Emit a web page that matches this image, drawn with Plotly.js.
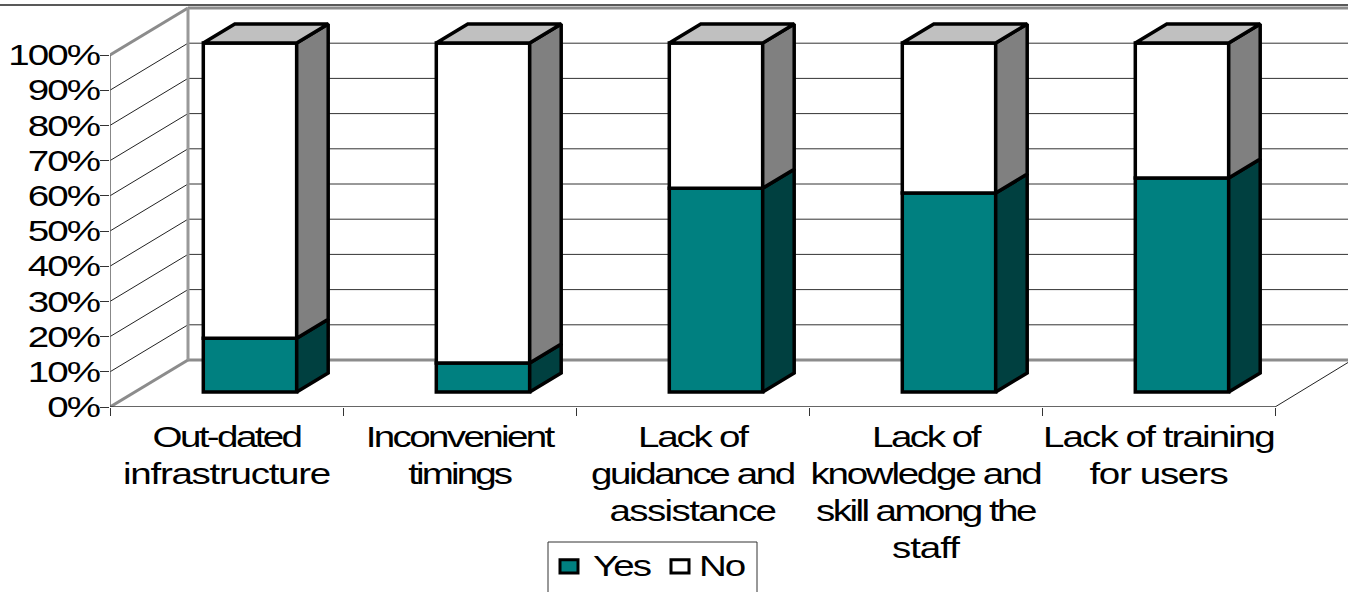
<!DOCTYPE html>
<html>
<head>
<meta charset="utf-8">
<script src="https://cdn.plot.ly/plotly-3.0.1.min.js"></script>
<style>html,body{margin:0;padding:0;background:#fff;overflow:hidden}</style>
</head>
<body>
<div id="chart" style="width:1348px;height:592px"></div>
<script>
// Share of respondents per barrier
const categories = [
  "Out-dated<br>infrastructure",
  "Inconvenient<br>timings",
  "Lack of<br>guidance and<br>assistance",
  "Lack of<br>knowledge and<br>skill among the<br>staff",
  "Lack of training<br>for users"
];
const yesValues = [15.4, 8.3, 58.4, 57, 61.3];
const noValues = [84.6, 91.7, 41.6, 43, 38.7];
const percentTicks = [0, 10, 20, 30, 40, 50, 60, 70, 80, 90, 100];

// Oblique projection of the box, in axis units
const W = 1348, H = 592, LEFT = 110, FLOOR = 407;
const UNIT_X = 233, UNIT_Y = 3.52;
const wallDX = 78 / UNIT_X, wallDY = 47 / UNIT_Y;
const barShiftX = 23.5 / UNIT_X, barBase = 15 / UNIT_Y, barScale = 349 / 352;
const barWidth = 93.4 / UNIT_X, depthDX = 31.5 / UNIT_X, depthDY = 19 / UNIT_Y;
const xMin = -0.5, xMax = xMin + (W - LEFT) / UNIT_X, yMax = FLOOR / UNIT_Y;
const lastEdge = categories.length - 0.5;

const TEAL = "#008080", TEAL_DARK = "#004040", SIDE_GREY = "#808080", TOP_GREY = "#C0C0C0";
const WALL_GREY = "#8c8c8c";
const EDGE_WIDTH = 3.5;

const centers = categories.map((_, i) => i);
const barX = centers.map(c => c + barShiftX);
const yesH = yesValues.map(v => v * barScale);
const noH = noValues.map(v => v * barScale);
const noBase = yesH.map(h => barBase + h);

function segLine(x0, y0, x1, y1, color, width) {
  return {type: "line", layer: "below", xref: "x", yref: "y", x0, y0, x1, y1,
          line: {color, width}};
}

const shapes = [];
// Side wall and back wall gridlines
percentTicks.forEach(t => {
  const heavy = t === 0 || t === 100;
  shapes.push(segLine(xMin, t, xMin + wallDX, t + wallDY, heavy ? WALL_GREY : "#222", heavy ? 3 : 1));
  shapes.push(segLine(xMin + wallDX, t + wallDY, xMax, t + wallDY, heavy ? WALL_GREY : "#333", heavy ? 3 : 1));
});
shapes.push(segLine(xMin + wallDX, wallDY, xMin + wallDX, 100 + wallDY, "#999", 3));
// Frame line along the top edge
shapes.push({type: "line", layer: "below", xref: "paper", yref: "y", x0: -LEFT / (W - LEFT), x1: 1,
             y0: 100 + wallDY + 3 / UNIT_Y, y1: 100 + wallDY + 3 / UNIT_Y, line: {color: "#222", width: 1.5}});
// Front axis lines and floor edge
shapes.push(segLine(xMin, 0, xMin, 100, "#606060", 1.5));
shapes.push(segLine(xMin, 0, lastEdge, 0, "#333", 1.5));
shapes.push(segLine(lastEdge, 0, lastEdge + wallDX * (73 / 78), 44.5 / UNIT_Y, "#222", 1));
// Legend frame
shapes.push({type: "rect", layer: "above", xref: "paper", yref: "paper",
             x0: (548 - LEFT) / (W - LEFT), x1: (757 - LEFT) / (W - LEFT),
             y0: (FLOOR - 600) / FLOOR, y1: (FLOOR - 542) / FLOOR,
             line: {color: "#333", width: 1}, fillcolor: "rgba(0,0,0,0)"});

// Polygons for the visible side and top faces of the stacked boxes
function sideFaces(bases, heights) {
  const xs = [], ys = [];
  barX.forEach((c, i) => {
    const r = c + barWidth / 2, b = bases[i], t = b + heights[i];
    xs.push(r, r + depthDX, r + depthDX, r, r, null);
    ys.push(b, b + depthDY, t + depthDY, t, b, null);
  });
  return {x: xs, y: ys};
}
function topFaces(bases, heights) {
  const xs = [], ys = [];
  barX.forEach((c, i) => {
    const l = c - barWidth / 2, r = c + barWidth / 2, t = bases[i] + heights[i];
    xs.push(l, r, r + depthDX, l + depthDX, l, null);
    ys.push(t, t, t + depthDY, t + depthDY, t, null);
  });
  return {x: xs, y: ys};
}
function face(poly, color) {
  return {type: "scatter", mode: "lines", x: poly.x, y: poly.y, fill: "toself", fillcolor: color,
          line: {color: "#000", width: EDGE_WIDTH}, showlegend: false, hoverinfo: "skip"};
}

const yesBase = barX.map(() => barBase);
const traces = [
  {type: "bar", name: "Yes", x: barX, y: yesH, base: yesBase, width: barWidth,
   marker: {color: TEAL, line: {color: "#000", width: EDGE_WIDTH}}, hoverinfo: "skip"},
  {type: "bar", name: "No", x: barX, y: noH, base: noBase, width: barWidth,
   marker: {color: "#FFFFFF", line: {color: "#000", width: EDGE_WIDTH}}, hoverinfo: "skip"},
  face(sideFaces(yesBase, yesH), TEAL_DARK),
  face(sideFaces(noBase, noH), SIDE_GREY),
  face(topFaces(noBase, noH), TOP_GREY)
];

const textFont = {family: "Liberation Sans, Arial, sans-serif", size: 29, color: "#000"};
const layout = {
  width: W, height: H,
  margin: {l: LEFT, r: 0, t: 0, b: H - FLOOR, autoexpand: false},
  paper_bgcolor: "#fff", plot_bgcolor: "rgba(0,0,0,0)",
  barmode: "overlay", shapes,
  font: textFont,
  xaxis: {range: [xMin, xMax], tickmode: "array", tickvals: centers, ticktext: categories,
          tickangle: 0, showgrid: false, zeroline: false, showline: false,
          ticks: "outside", ticklen: 11, tickcolor: "rgba(0,0,0,0)", tickfont: textFont,
          minor: {tickmode: "array", tickvals: centers.map(c => c - 0.5).concat([lastEdge]),
                  ticks: "outside", ticklen: 8, tickwidth: 1, tickcolor: "#333", showgrid: false}},
  yaxis: {range: [0, yMax], tickmode: "array", tickvals: percentTicks,
          ticktext: percentTicks.map(t => t + "%"), showgrid: false, zeroline: false, showline: false,
          ticks: "outside", ticklen: 9, tickwidth: 1, tickcolor: "#333", tickfont: textFont},
  legend: {orientation: "h", x: (549 - LEFT) / (W - LEFT), xanchor: "left",
           y: (FLOOR - 541) / FLOOR, yanchor: "top",
           font: textFont, bgcolor: "rgba(0,0,0,0)", borderwidth: 0,
           entrywidth: 66, entrywidthmode: "pixels", itemclick: false, itemdoubleclick: false}
};

// The labels use a wide, tightly tracked setting of the face
const TRACK = "-1.5px", LINE_GAP = 37, LABEL_STRETCH = 1.33;
// Set width of each category label line, in pixels
const labelLineWidths = [
  [148, 207],
  [187, 102],
  [109, 203, 166],
  [107, 230, 219, 67],
  [231, 138]
];
const legendTextShift = [4, -1];

function widen(el, anchor, stretch, dx, dy) {
  const box = el.getBBox();
  const pivot = anchor === "middle" ? box.x + box.width / 2 : anchor === "end" ? box.x + box.width : box.x;
  const prev = el.getAttribute("transform") || "";
  el.setAttribute("transform",
    `${prev} translate(${pivot + dx} ${dy}) scale(${stretch} 1) translate(${-pivot} 0)`);
}

Plotly.newPlot("chart", traces, layout, {displayModeBar: false}).then(gd => {
  gd.querySelectorAll(".xtick text").forEach((t, k) => {
    t.querySelectorAll("tspan.line").forEach((s, i) => {
      s.setAttribute("dy", (i * LINE_GAP) + "px");
      const natural = s.getComputedTextLength();
      const n = s.textContent.length;
      const want = labelLineWidths[k][i] / LABEL_STRETCH;
      s.style.letterSpacing = ((want - natural) / n) + "px";
    });
    widen(t, "middle", LABEL_STRETCH, 0, -7);
  });
  gd.querySelectorAll(".ytick text").forEach(t => {
    t.style.letterSpacing = TRACK;
    widen(t, "end", 1.33, 5, 0);
  });
  gd.querySelectorAll(".legend .legendtext").forEach((t, k) => {
    t.style.letterSpacing = TRACK;
    widen(t, "start", 1.33, legendTextShift[k], -2);
  });
  gd.querySelectorAll(".legend .legendpoints path").forEach(p => {
    const prev = p.getAttribute("transform") || "";
    p.setAttribute("transform", prev + " scale(1.5 1.1)");
    p.style.vectorEffect = "non-scaling-stroke";
    p.style.strokeWidth = "3px";
  });
});
</script>
</body>
</html>
